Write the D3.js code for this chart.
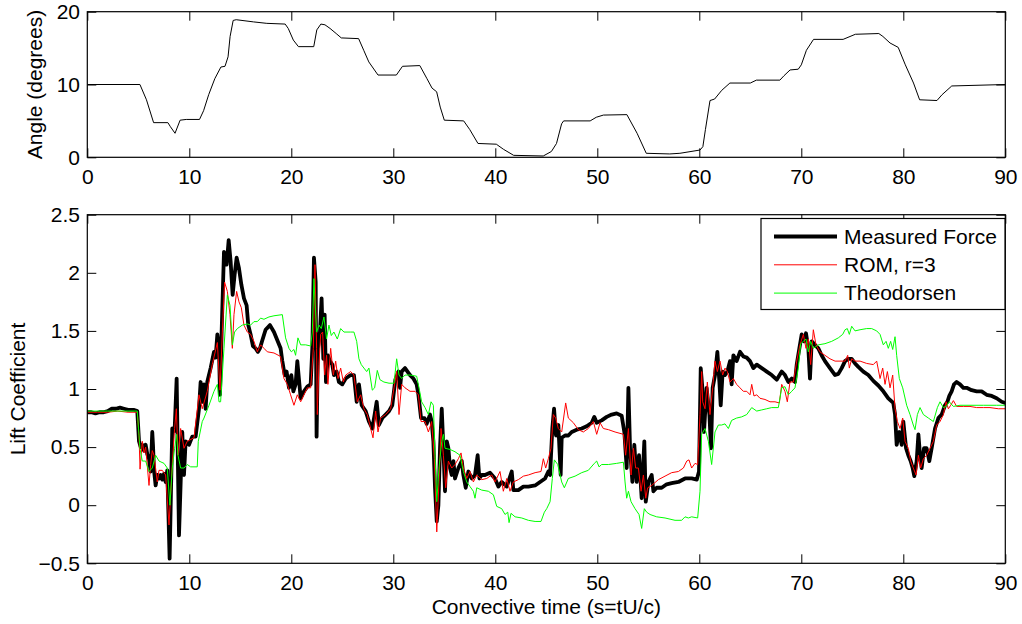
<!DOCTYPE html>
<html>
<head>
<meta charset="utf-8">
<script src="https://cdn.jsdelivr.net/npm/d3@7"></script>
<style>
  body { margin: 0; background: #fff; }
  svg { display: block; font-family: "Liberation Sans", Arial, Helvetica, sans-serif; }
</style>
</head>
<body>
<svg id="canvas" width="1022" height="624"></svg>
<script>
// values, [convective time, value]
const angle = [[0,10],[5.16,10],[5.8,7.9],[6.5,4.76],[7.9,4.76],[8.15,4.2],[8.6,3.3],[9.1,5.1],[9.7,5.2],[11.0,5.2],[11.4,6.4],[11.9,8.6],[12.5,10.8],[13.1,12.4],[13.5,12.5],[13.8,13.8],[14.0,16.6],[14.3,18.8],[14.6,18.9],[16.3,18.6],[17.6,18.4],[19.4,18.3],[19.7,17.7],[20.2,16.1],[20.7,15.2],[22.2,15.2],[22.5,17.5],[22.9,18.3],[23.3,18.2],[23.8,17.7],[24.4,17.0],[24.9,16.4],[26.6,16.3],[27.1,14.7],[27.6,13.1],[28.5,11.3],[30.3,11.3],[30.9,12.5],[32.6,12.6],[33.3,10.8],[33.8,9.5],[34.25,9.0],[34.6,6.9],[35.0,5.1],[36.9,5.0],[37.5,3.8],[38.3,1.9],[40.1,1.8],[40.8,1.1],[41.8,0.27],[44.7,0.18],[45.5,0.8],[46.0,1.9],[46.5,4.6],[46.7,5.0],[49.3,5.0],[49.9,5.5],[50.6,5.8],[52.9,5.86],[53.9,3.3],[54.8,0.55],[57.1,0.46],[58.1,0.55],[60.07,1.0],[60.35,1.46],[60.6,3.8],[61.05,7.8],[61.5,8.0],[62.2,9.2],[63.0,10.2],[65.0,10.2],[65.6,10.6],[67.9,10.6],[68.3,11.2],[68.9,12.0],[69.7,12.1],[70.0,12.7],[70.5,14.7],[71.2,16.2],[74.1,16.2],[75.3,16.9],[77.6,17.0],[78.0,16.6],[78.7,15.7],[79.5,15.1],[80.2,12.7],[81.0,10.2],[81.6,7.9],[83.3,7.8],[83.8,8.6],[84.75,9.8],[90,10.0]];

const measured = [[0,0.80],[0.4,0.80],[0.8,0.79],[1.2,0.80],[1.6,0.80],[2.0,0.81],[2.4,0.83],[2.8,0.83],[3.2,0.84],[3.6,0.83],[4.0,0.82],[4.6,0.82],[4.9,0.81],[5.07,0.55],[5.23,0.50],[5.39,0.52],[5.56,0.47],[5.72,0.52],[5.88,0.44],[6.05,0.40],[6.21,0.29],[6.37,0.63],[6.44,0.52],[6.54,0.30],[6.70,0.17],[6.86,0.26],[7.03,0.23],[7.19,0.26],[7.35,0.22],[7.52,0.27],[7.68,0.20],[7.84,0.30],[8.07,-0.46],[8.33,0.66],[8.56,0.64],[8.76,1.09],[8.99,-0.26],[9.31,0.63],[9.48,0.26],[9.64,0.55],[9.97,0.52],[10.29,0.59],[10.62,0.59],[10.95,0.83],[11.11,1.06],[11.27,0.89],[11.44,1.04],[11.60,0.83],[11.76,1.06],[12.09,1.18],[12.42,1.32],[12.58,1.27],[12.75,1.47],[12.91,1.35],[13.01,0.95],[13.17,1.49],[13.40,2.18],[13.66,2.07],[13.86,2.28],[14.05,2.10],[14.25,1.81],[14.44,1.98],[14.64,2.13],[14.87,2.04],[15.10,1.90],[15.36,1.78],[15.62,1.72],[15.78,1.55],[16.01,1.47],[16.24,1.37],[16.50,1.35],[16.73,1.32],[16.93,1.35],[17.16,1.42],[17.48,1.51],[17.91,1.55],[18.30,1.49],[18.63,1.42],[18.95,1.35],[19.12,1.24],[19.35,1.12],[19.54,1.15],[19.77,1.01],[20.00,1.12],[20.20,0.98],[20.42,1.04],[20.59,1.24],[20.92,0.92],[21.24,0.98],[21.57,1.02],[21.90,1.04],[22.06,1.35],[22.22,2.13],[22.39,1.92],[22.48,0.59],[22.61,1.35],[22.81,1.49],[22.97,1.78],[23.14,1.26],[23.27,1.64],[23.40,1.06],[23.59,1.29],[23.79,1.24],[24.02,1.21],[24.18,1.12],[24.44,1.15],[24.67,1.06],[25.00,1.04],[25.33,1.09],[25.82,1.12],[26.14,1.12],[26.41,0.89],[26.63,1.04],[26.90,0.86],[27.29,0.81],[27.61,0.72],[27.94,0.66],[28.17,0.78],[28.37,0.89],[28.59,0.69],[28.92,0.75],[29.25,0.78],[29.58,0.81],[29.90,0.86],[30.2,1.08],[30.50,1.15],[30.66,1.01],[30.82,1.15],[31.15,1.18],[31.64,1.12],[31.97,1.09],[32.29,1.04],[32.46,0.95],[32.72,0.75],[33.05,0.75],[33.27,0.70],[33.60,0.78],[33.76,0.72],[33.93,0.55],[34.09,0.15],[34.26,-0.14],[34.42,0.00],[34.58,0.49],[34.75,0.83],[34.91,0.49],[35.07,0.12],[35.24,0.55],[35.40,0.49],[35.56,0.32],[35.73,0.26],[35.89,0.38],[36.05,0.23],[36.38,0.32],[36.71,0.38],[36.87,0.26],[37.10,0.15],[37.36,0.29],[37.69,0.23],[38.01,0.26],[38.27,0.43],[38.44,0.23],[38.67,0.26],[38.99,0.26],[39.48,0.28],[39.97,0.23],[40.30,0.16],[40.63,0.20],[41.12,0.16],[41.61,0.29],[41.77,0.13],[42.26,0.13],[42.75,0.16],[43.24,0.16],[43.90,0.17],[44.39,0.20],[44.88,0.23],[45.20,0.29],[45.37,0.26],[45.59,0.66],[45.76,0.83],[45.95,0.60],[46.18,0.69],[46.41,0.26],[46.51,0.58],[46.84,0.60],[47.16,0.60],[47.49,0.63],[47.98,0.65],[48.47,0.66],[48.96,0.68],[49.45,0.71],[49.71,0.76],[49.94,0.71],[50.43,0.73],[50.92,0.76],[51.41,0.78],[51.90,0.79],[52.39,0.77],[52.65,0.63],[52.88,0.32],[53.05,1.01],[53.21,0.49],[53.44,0.20],[53.63,0.52],[53.86,0.20],[54.09,0.43],[54.35,0.06],[54.61,0.55],[54.75,0.03],[55.01,0.20],[55.33,0.26],[55.50,0.12],[55.82,0.15],[56.31,0.15],[56.80,0.18],[57.29,0.19],[57.95,0.20],[58.60,0.23],[59.25,0.23],[59.75,0.22],[59.97,0.29],[60.14,1.18],[60.30,1.01],[60.46,0.63],[60.72,1.01],[60.99,0.78],[61.15,0.49],[61.31,1.01],[61.54,1.12],[61.77,1.32],[61.97,1.06],[62.10,0.86],[62.29,1.15],[62.52,1.12],[62.75,1.15],[63.01,1.24],[63.17,1.04],[63.34,1.29],[63.66,1.24],[63.99,1.32],[64.32,1.28],[64.65,1.27],[64.97,1.24],[65.30,1.18],[65.63,1.21],[66.12,1.18],[66.61,1.15],[67.10,1.12],[67.59,1.08],[68.08,1.15],[68.40,1.12],[68.73,1.06],[69.06,1.09],[69.38,1.06],[69.55,1.21],[69.81,1.35],[70.04,1.47],[70.27,1.41],[70.46,1.48],[70.69,1.35],[70.85,1.09],[71.02,1.41],[71.34,1.38],[71.67,1.35],[71.99,1.29],[72.32,1.24],[72.81,1.18],[73.31,1.12],[73.63,1.13],[73.96,1.18],[74.29,1.24],[74.61,1.26],[74.94,1.26],[75.27,1.22],[75.59,1.19],[76.08,1.15],[76.57,1.12],[77.06,1.07],[77.55,1.03],[78.04,0.98],[78.53,0.92],[79.02,0.88],[79.19,0.78],[79.35,0.52],[79.61,0.63],[79.84,0.52],[80.00,0.72],[80.27,0.49],[80.49,0.43],[80.72,0.38],[80.92,0.32],[81.08,0.25],[81.31,0.38],[81.48,0.61],[81.64,0.43],[81.80,0.32],[82.03,0.49],[82.29,0.49],[82.55,0.38],[82.78,0.49],[83.11,0.66],[83.44,0.75],[83.76,0.78],[84.09,0.86],[84.32,0.89],[84.51,0.94],[84.74,0.98],[84.97,1.04],[85.23,1.06],[85.56,1.04],[85.89,1.01],[86.21,1.01],[86.70,0.99],[87.19,0.98],[87.68,0.98],[88.17,0.95],[88.67,0.94],[89.15,0.92],[89.65,0.89],[90.0,0.88]];

const rom = [[0,0.80],[1,0.80],[2,0.80],[3,0.81],[4,0.80],[4.9,0.80],[5.07,0.60],[5.17,0.31],[5.39,0.55],[5.56,0.45],[5.72,0.50],[6.05,0.17],[6.21,0.35],[6.37,0.47],[6.54,0.43],[6.86,0.20],[7.03,0.30],[7.35,0.30],[7.68,0.26],[8.01,-0.17],[8.33,0.35],[8.56,0.66],[8.73,0.83],[8.89,0.43],[9.15,0.66],[9.48,0.49],[9.80,0.55],[10.46,0.58],[10.95,0.95],[11.27,0.83],[11.76,0.98],[12.25,1.21],[12.75,1.40],[13.01,0.99],[13.24,1.49],[13.46,1.92],[13.73,1.84],[13.99,1.64],[14.22,1.35],[14.38,1.64],[14.64,1.84],[14.87,1.75],[15.10,1.70],[15.36,1.55],[15.69,1.49],[16.01,1.47],[16.34,1.41],[16.67,1.32],[16.99,1.38],[17.32,1.35],[17.65,1.32],[18.30,1.31],[18.95,1.28],[19.28,1.09],[19.61,1.04],[19.93,0.95],[20.26,0.86],[20.59,0.95],[20.92,0.89],[21.24,0.95],[21.57,1.01],[21.90,1.01],[22.16,1.35],[22.32,2.07],[22.48,1.35],[22.55,0.78],[22.71,1.21],[22.88,1.47],[23.07,1.49],[23.27,1.12],[23.46,1.29],[23.59,1.04],[23.86,1.35],[24.12,1.12],[24.35,1.24],[24.58,1.09],[24.84,1.18],[25.10,1.06],[25.33,1.12],[25.82,1.15],[26.14,1.12],[26.47,0.89],[26.80,0.95],[27.12,0.83],[27.45,0.78],[27.78,0.66],[28.01,0.58],[28.27,0.81],[28.50,0.63],[28.76,0.75],[29.25,0.78],[29.74,0.83],[30.07,1.01],[30.33,1.15],[30.56,0.78],[30.82,1.04],[31.15,1.01],[31.64,0.98],[32.13,0.98],[32.46,0.95],[32.72,0.72],[33.11,0.72],[33.44,0.63],[33.76,0.72],[34.03,0.40],[34.26,-0.23],[34.48,0.20],[34.68,0.66],[34.91,0.43],[35.14,0.15],[35.40,0.38],[35.73,0.32],[36.05,0.35],[36.38,0.40],[36.64,0.45],[36.87,0.32],[37.20,0.23],[37.52,0.29],[37.85,0.20],[38.18,0.26],[38.67,0.22],[39.16,0.23],[39.65,0.26],[39.97,0.20],[40.46,0.29],[40.79,0.12],[41.12,0.23],[41.44,0.12],[41.77,0.20],[42.26,0.22],[42.75,0.25],[43.24,0.26],[43.90,0.28],[44.48,0.29],[44.71,0.40],[44.94,0.32],[45.20,0.40],[45.46,0.49],[45.69,0.78],[45.92,0.75],[46.18,0.66],[46.51,0.63],[46.90,0.88],[47.16,0.75],[47.65,0.71],[48.14,0.65],[48.63,0.63],[49.12,0.66],[49.61,0.72],[49.94,0.61],[50.27,0.71],[50.59,0.66],[51.09,0.65],[51.74,0.63],[52.56,0.61],[52.78,0.43],[53.05,0.66],[53.31,0.26],[53.54,0.49],[53.76,0.32],[54.03,0.32],[54.29,0.12],[54.52,0.26],[54.75,0.06],[54.94,0.15],[55.33,0.17],[55.99,0.22],[56.64,0.25],[57.29,0.28],[57.95,0.29],[58.44,0.32],[58.77,0.38],[58.99,0.39],[59.25,0.32],[59.58,0.36],[59.84,0.35],[60.07,0.78],[60.24,1.15],[60.33,0.89],[60.56,0.83],[60.79,1.06],[61.05,0.78],[61.31,1.01],[61.54,1.24],[61.77,1.15],[62.03,1.24],[62.29,1.12],[62.52,1.18],[62.75,1.15],[63.01,1.06],[63.34,1.09],[63.66,1.04],[63.99,1.01],[64.32,0.98],[64.65,0.98],[64.97,0.95],[65.14,1.04],[65.36,0.94],[65.63,0.95],[65.95,0.92],[66.44,0.91],[66.93,0.89],[67.42,0.89],[67.85,0.88],[68.08,1.04],[68.40,0.98],[68.63,0.89],[68.89,1.06],[69.22,1.06],[69.55,1.24],[69.87,1.38],[70.20,1.47],[70.46,1.35],[70.69,1.43],[70.92,1.21],[71.18,1.51],[71.44,1.38],[71.83,1.32],[72.32,1.29],[72.81,1.26],[73.31,1.24],[73.80,1.24],[74.29,1.24],[74.55,1.29],[74.71,1.18],[74.94,1.26],[75.27,1.24],[75.76,1.24],[76.41,1.22],[77.06,1.21],[77.39,1.24],[77.72,1.09],[77.98,1.18],[78.21,1.04],[78.44,1.15],[78.70,1.01],[78.96,1.12],[79.19,0.83],[79.42,0.72],[79.68,0.66],[79.94,0.75],[80.17,0.55],[80.49,0.49],[80.72,0.38],[80.98,0.32],[81.25,0.26],[81.48,0.43],[81.70,0.32],[81.97,0.40],[82.29,0.43],[82.62,0.49],[82.95,0.55],[83.27,0.69],[83.60,0.72],[83.93,0.78],[84.19,0.89],[84.42,0.83],[84.65,0.86],[84.91,0.90],[85.23,0.85],[85.89,0.85],[86.54,0.85],[87.19,0.84],[87.85,0.84],[88.50,0.84],[89.32,0.83],[90.0,0.83]];

const theodorsen = [[0,0.81],[1,0.81],[2,0.81],[3,0.81],[4,0.81],[4.9,0.81],[5.16,0.49],[5.39,0.38],[5.72,0.38],[6.05,0.29],[6.37,0.32],[6.70,0.43],[7.03,0.38],[7.52,0.36],[7.84,0.32],[8.10,0.00],[8.33,0.32],[8.56,0.49],[8.76,0.61],[8.89,0.43],[9.15,0.32],[9.48,0.32],[9.80,0.35],[10.13,0.33],[10.78,0.33],[10.88,0.55],[11.27,0.72],[11.44,0.75],[11.93,0.86],[12.42,0.98],[12.75,1.04],[12.91,0.89],[13.07,0.89],[13.40,1.35],[13.73,1.81],[13.99,1.72],[14.22,1.38],[14.44,1.49],[14.71,1.52],[15.20,1.55],[15.69,1.56],[16.01,1.55],[16.34,1.58],[16.67,1.58],[16.99,1.61],[17.32,1.60],[17.81,1.62],[18.30,1.63],[19.12,1.64],[19.44,1.44],[19.77,1.35],[20.00,1.32],[20.26,1.34],[20.42,1.29],[20.65,1.44],[20.92,1.38],[21.41,1.38],[21.90,1.37],[22.06,1.49],[22.22,1.95],[22.48,1.49],[22.71,1.55],[22.94,1.52],[23.20,1.62],[23.46,1.43],[23.69,1.55],[23.92,1.46],[24.18,1.49],[24.51,1.43],[24.84,1.52],[25.16,1.49],[25.82,1.49],[26.14,1.49],[26.41,1.41],[26.63,1.26],[26.86,1.21],[27.12,1.18],[27.39,1.15],[27.61,1.18],[27.94,0.99],[28.17,1.01],[28.43,1.16],[28.69,1.08],[29.08,1.06],[29.58,1.05],[30.07,1.05],[30.33,1.26],[30.56,1.12],[30.82,1.09],[31.15,1.12],[31.64,1.12],[32.29,1.11],[32.52,1.01],[32.78,0.89],[33.11,0.84],[33.44,0.78],[33.70,0.89],[33.93,0.86],[34.09,0.43],[34.26,0.03],[34.48,0.32],[34.75,0.55],[34.91,0.61],[35.07,0.49],[35.56,0.48],[36.05,0.46],[36.54,0.43],[36.87,0.29],[37.20,0.20],[37.52,0.16],[37.85,0.12],[38.01,0.06],[38.18,0.15],[38.67,0.13],[39.32,0.12],[39.81,0.09],[40.14,-0.01],[40.63,-0.03],[40.95,-0.08],[41.22,-0.06],[41.35,-0.15],[41.54,-0.07],[41.94,-0.10],[42.59,-0.11],[43.24,-0.13],[43.90,-0.14],[44.48,-0.14],[44.81,-0.06],[45.04,-0.03],[45.37,0.03],[45.59,0.23],[45.79,0.39],[46.12,0.35],[46.51,0.20],[46.77,0.15],[47.16,0.23],[47.82,0.25],[48.47,0.28],[49.12,0.30],[49.71,0.36],[49.94,0.38],[50.17,0.33],[50.43,0.35],[51.09,0.35],[51.90,0.36],[52.56,0.37],[52.72,0.20],[52.88,0.06],[53.05,0.12],[53.31,0.03],[53.70,-0.03],[54.09,-0.08],[54.35,-0.20],[54.61,-0.03],[54.84,-0.06],[55.17,-0.08],[55.82,-0.10],[56.64,-0.11],[57.62,-0.13],[58.27,-0.13],[58.60,-0.10],[58.93,-0.11],[59.25,-0.10],[59.84,-0.11],[60.07,0.12],[60.23,0.61],[60.56,0.66],[60.89,0.55],[61.21,0.35],[61.54,0.63],[61.87,0.69],[62.19,0.69],[62.52,0.70],[62.85,0.66],[63.17,0.73],[63.66,0.75],[64.15,0.76],[64.65,0.78],[65.14,0.84],[65.63,0.81],[66.12,0.82],[66.61,0.83],[67.10,0.84],[67.75,0.84],[68.08,1.01],[68.40,1.02],[68.73,0.95],[69.06,0.98],[69.38,1.01],[69.71,1.18],[69.94,1.39],[70.20,1.41],[70.46,1.43],[70.69,1.32],[70.92,1.41],[71.18,1.35],[71.67,1.38],[72.32,1.39],[72.98,1.41],[73.63,1.44],[74.06,1.47],[74.29,1.51],[74.51,1.52],[74.71,1.47],[74.94,1.54],[75.27,1.50],[75.76,1.51],[76.41,1.52],[76.90,1.52],[77.39,1.50],[77.72,1.47],[78.04,1.38],[78.31,1.41],[78.53,1.35],[78.76,1.41],[78.96,1.34],[79.19,1.45],[79.35,1.29],[79.61,1.09],[79.94,1.01],[80.33,0.86],[80.66,0.78],[80.98,0.69],[81.15,0.65],[81.38,0.78],[81.64,0.84],[81.97,0.78],[82.46,0.75],[82.95,0.72],[83.34,0.84],[83.60,0.89],[83.93,0.84],[84.19,0.85],[84.51,0.89],[84.91,0.85],[85.56,0.86],[86.54,0.86],[87.85,0.86],[89.15,0.86],[90.0,0.86]];

const xTicks = [0, 10, 20, 30, 40, 50, 60, 70, 80, 90];
const angleTicks = [0, 10, 20];
const liftTicks = [-0.5, 0, 0.5, 1, 1.5, 2, 2.5];
const legendNames = ["Measured Force", "ROM, r=3", "Theodorsen"];

const svg = d3.select("#canvas");
const fontSize = 21;

const left = 87.3, right = 1005.3;
const top1 = 11.7, bottom1 = 157.3;
const top2 = 214.7, bottom2 = 563.3;

const x = d3.scaleLinear().domain([0, 90]).range([left, right]);
const yAngle = d3.scaleLinear().domain([0, 20]).range([bottom1, top1]);
const yLift = d3.scaleLinear().domain([-0.5, 2.5]).range([bottom2, top2]);

const fmt = d => (d < 0 ? "\u2212" + Math.abs(d) : String(d));

function drawAxes(y, ticks, top, bottom) {
  const g = svg.append("g");
  const tick = 9;

  g.append("g").attr("transform", `translate(0,${bottom})`)
    .call(d3.axisBottom(x).tickValues(xTicks).tickSizeInner(-tick).tickSizeOuter(0).tickPadding(11.5).tickFormat(d => d));
  g.append("g").attr("transform", `translate(0,${top})`)
    .call(d3.axisTop(x).tickValues(xTicks).tickSizeInner(-tick).tickSizeOuter(0).tickFormat(""));
  g.append("g").attr("transform", `translate(${left},0)`)
    .call(d3.axisLeft(y).tickValues(ticks).tickSizeInner(-tick).tickSizeOuter(0).tickPadding(7.3).tickFormat(fmt));
  g.append("g").attr("transform", `translate(${right},0)`)
    .call(d3.axisRight(y).tickValues(ticks).tickSizeInner(-tick).tickSizeOuter(0).tickFormat(""));

  g.selectAll(".domain").remove();
  g.selectAll("line").attr("stroke", "#000").attr("stroke-width", 1);
  g.selectAll("text").attr("fill", "#000").attr("font-size", fontSize)
    .attr("font-family", "Liberation Sans, Arial, Helvetica, sans-serif");

  g.append("rect")
    .attr("x", left).attr("y", top)
    .attr("width", right - left).attr("height", bottom - top)
    .attr("fill", "none").attr("stroke", "#000").attr("stroke-width", 1.2);
  return g;
}

// ---- top panel: angle of attack ----
svg.append("clipPath").attr("id", "clip1")
  .append("rect").attr("x", left).attr("y", top1).attr("width", right - left).attr("height", bottom1 - top1);

svg.append("path")
  .datum(angle)
  .attr("clip-path", "url(#clip1)")
  .attr("fill", "none")
  .attr("stroke", "#000")
  .attr("stroke-width", 1)
  .attr("d", d3.line().x(d => x(d[0])).y(d => yAngle(d[1])));

drawAxes(yAngle, angleTicks, top1, bottom1);

svg.append("text")
  .attr("transform", `translate(42,${(top1 + bottom1) / 2}) rotate(-90)`)
  .attr("text-anchor", "middle")
  .attr("font-size", fontSize)
  .text("Angle (degrees)");

// ---- bottom panel: lift coefficient ----
svg.append("clipPath").attr("id", "clip2")
  .append("rect").attr("x", left).attr("y", top2).attr("width", right - left).attr("height", bottom2 - top2);

const liftLine = d3.line().x(d => x(d[0])).y(d => yLift(d[1]));
const series = [
  { data: measured, color: "#000000", width: 3.8 },
  { data: rom, color: "#ff0000", width: 1 },
  { data: theodorsen, color: "#00ff00", width: 1 }
];

svg.append("g").attr("clip-path", "url(#clip2)")
  .selectAll("path")
  .data(series)
  .enter().append("path")
  .attr("fill", "none")
  .attr("stroke", d => d.color)
  .attr("stroke-width", d => d.width)
  .attr("stroke-linejoin", "round")
  .attr("stroke-linecap", "round")
  .attr("d", d => liftLine(d.data));

drawAxes(yLift, liftTicks, top2, bottom2);

svg.append("text")
  .attr("transform", `translate(25,${(top2 + bottom2) / 2}) rotate(-90)`)
  .attr("text-anchor", "middle")
  .attr("font-size", fontSize)
  .text("Lift Coefficient");

svg.append("text")
  .attr("x", (left + right) / 2)
  .attr("y", 614)
  .attr("text-anchor", "middle")
  .attr("font-size", fontSize)
  .text("Convective time (s=tU/c)");

// ---- legend ----
const legend = svg.append("g");
legend.append("rect")
  .attr("x", 761).attr("y", 218.5)
  .attr("width", 244).attr("height", 91)
  .attr("fill", "#fff").attr("stroke", "#000").attr("stroke-width", 1.2);

const rows = legend.selectAll("g.row")
  .data(series.map((s, i) => ({ ...s, name: legendNames[i] })))
  .enter().append("g")
  .attr("transform", (d, i) => `translate(0,${236.5 + i * 28.3})`);

rows.append("line")
  .attr("x1", 774).attr("x2", 837)
  .attr("stroke", d => d.color)
  .attr("stroke-width", d => d.width);

rows.append("text")
  .attr("x", 844)
  .attr("dy", "0.35em")
  .attr("font-size", fontSize)
  .text(d => d.name);
</script>
</body>
</html>
